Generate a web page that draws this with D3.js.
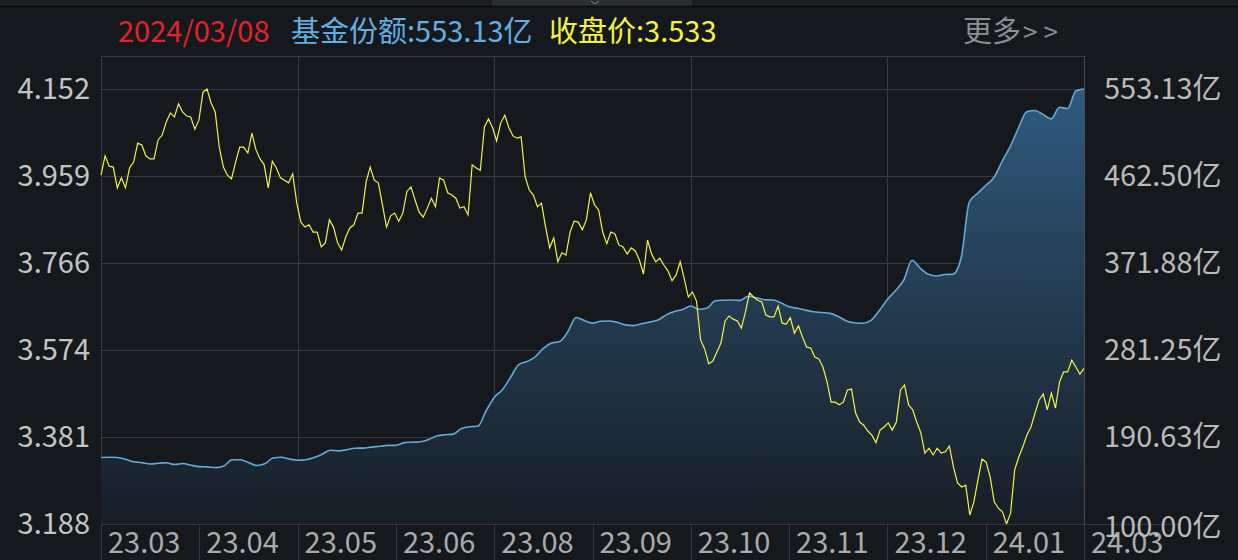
<!DOCTYPE html>
<html><head><meta charset="utf-8">
<script src="https://cdn.jsdelivr.net/npm/d3@7/dist/d3.min.js"></script>
<style>
html,body{margin:0;padding:0;background:#15181d;overflow:hidden;}
svg{display:block;}
text{font-family:"Noto Sans CJK SC","Noto Sans",sans-serif;}
</style></head>
<body>
<svg id="chart" width="1238" height="560"></svg>
<script>
// ---------- data ----------
const headerDate = "2024/03/08";
const headerShares = "基金份额:553.13亿";
const headerPrice = "收盘价:3.533";
const headerMore = "更多";
const headerMoreArrows = ">>";

const priceTicks = [4.152, 3.959, 3.766, 3.574, 3.381, 3.188];
const priceTickLabels = ["4.152", "3.959", "3.766", "3.574", "3.381", "3.188"];
const shareTicks = [553.13, 462.50, 371.88, 281.25, 190.63, 100.00];
const shareTickLabels = ["553.13亿", "462.50亿", "371.88亿", "281.25亿", "190.63亿", "100.00亿"];
const monthLabels = ["23.03", "23.04", "23.05", "23.06", "23.08", "23.09", "23.10", "23.11", "23.12", "24.01", "24.03"];

// closing price (daily)
const price = [
3.961,4.004,3.981,3.979,3.933,3.955,3.933,3.977,3.990,4.032,4.028,4.004,3.997,3.997,4.039,4.050,4.079,4.099,4.090,4.119,
4.101,4.092,4.090,4.063,4.083,4.145,4.152,4.121,4.101,4.023,3.979,3.961,3.953,3.990,4.023,4.023,4.010,4.054,4.017,3.997,
3.984,3.933,3.992,3.977,3.955,3.950,3.944,3.964,3.899,3.857,3.846,3.851,3.835,3.835,3.802,3.811,3.862,3.846,3.811,3.795,
3.824,3.844,3.851,3.877,3.877,3.946,3.979,3.950,3.944,3.895,3.846,3.871,3.877,3.859,3.877,3.925,3.935,3.906,3.879,3.868,
3.888,3.910,3.891,3.955,3.950,3.922,3.917,3.910,3.888,3.891,3.873,3.984,3.977,3.972,4.068,4.086,4.066,4.037,4.077,4.094,
4.066,4.048,4.043,4.046,3.957,3.928,3.917,3.891,3.899,3.846,3.800,3.822,3.769,3.789,3.784,3.835,3.859,3.857,3.840,3.862,
3.922,3.895,3.884,3.835,3.809,3.835,3.831,3.806,3.802,3.786,3.800,3.793,3.773,3.742,3.817,3.786,3.769,3.777,3.762,3.749,
3.727,3.740,3.769,3.731,3.691,3.702,3.682,3.596,3.576,3.543,3.549,3.569,3.589,3.638,3.649,3.642,3.638,3.622,3.658,3.700,
3.691,3.684,3.680,3.651,3.647,3.647,3.671,3.633,3.631,3.645,3.611,3.627,3.602,3.580,3.578,3.558,3.554,3.536,3.503,3.458,
3.458,3.452,3.458,3.485,3.487,3.434,3.414,3.407,3.394,3.385,3.368,3.396,3.403,3.412,3.396,3.414,3.485,3.496,3.452,3.441,
3.414,3.390,3.345,3.356,3.341,3.356,3.345,3.348,3.361,3.314,3.279,3.270,3.274,3.208,3.237,3.286,3.332,3.325,3.292,3.237,
3.223,3.215,3.188,3.212,3.308,3.336,3.359,3.385,3.403,3.434,3.463,3.476,3.441,3.478,3.445,3.503,3.525,3.525,3.551,3.536,
3.520,3.533
];

// fund shares (亿份)
const shares = [
169.27,169.58,169.27,167.50,164.79,163.96,162.50,163.23,163.75,161.98,163.02,161.25,159.79,159.48,158.75,160.42,166.98,166.98,164.06,160.94,
162.71,168.75,169.48,167.71,166.46,166.98,169.27,172.71,176.88,176.15,177.40,178.96,179.06,180.10,180.94,181.88,181.88,184.79,185.21,185.63,
188.12,191.67,193.02,193.65,199.48,201.35,201.77,217.71,231.77,239.90,252.81,266.04,269.27,273.96,283.02,288.44,290.00,300.52,315.11,311.98,
309.27,311.25,311.46,310.11,307.40,306.67,308.54,310.42,312.50,317.81,321.36,323.44,327.09,323.65,325.00,332.61,333.13,333.34,332.92,337.29,
335.73,333.65,333.34,330.42,326.25,324.69,322.81,321.04,320.31,319.38,316.15,311.56,309.59,309.06,312.09,322.09,333.86,343.23,354.17,374.79,
366.67,360.11,358.34,359.90,360.21,377.09,435.42,444.27,452.61,460.94,477.61,493.44,512.50,529.48,530.73,526.67,521.98,534.07,532.82,551.05,
553.13
];

(function () {
// ---------- layout ----------
const W = 1238, H = 560;
const pLeft = 101, pRight = 1084, pTop = 56, y0 = 89, y1 = 524;
const cellW = 98.3;

const svg = d3.select("#chart");

const xPrice = d3.scaleLinear().domain([0, price.length - 1]).range([pLeft, pRight]);
const xShares = d3.scaleLinear().domain([0, shares.length - 1]).range([pLeft, pRight]);
const yPrice = d3.scaleLinear().domain([3.188, 4.152]).range([y1, y0]);
const yShares = d3.scaleLinear().domain([100, 553.13]).range([y1, y0]);
const xBand = d3.scaleBand().domain(monthLabels).range([pLeft, pLeft + cellW * monthLabels.length]);

// top strip
svg.append("rect").attr("x", 0).attr("y", 0).attr("width", W).attr("height", 6).attr("fill", "#1b1e22");
svg.append("rect").attr("x", 492).attr("y", 0).attr("width", 200).attr("height", 6).attr("fill", "#2a2d32");
svg.append("path").attr("d", "M591,1 L595,4 L599,1").attr("stroke", "#888").attr("fill", "none").attr("stroke-width", 1);
svg.append("line").attr("x1", 0).attr("x2", W).attr("y1", 6.5).attr("y2", 6.5).attr("stroke", "#0b0c0e").attr("stroke-width", 1.5);

// header
const hdr = svg.append("g").style("font-size", "29px");
hdr.append("text").attr("x", 118).attr("y", 42).attr("fill", "#e3222b").text(headerDate);
hdr.append("text").attr("x", 291).attr("y", 42).attr("fill", "#5fb0e0").text(headerShares);
hdr.append("text").attr("x", 549).attr("y", 42).attr("fill", "#f4f43c").text(headerPrice);
const more = hdr.append("text").attr("x", 963).attr("y", 42).attr("fill", "#8d8f92");
more.append("tspan").text(headerMore);
more.append("tspan").attr("dx", 2).style("letter-spacing", "6px").style("font-size", "26px").text(headerMoreArrows);

// gradient
const defs = svg.append("defs");
const grad = defs.append("linearGradient").attr("id", "fillGrad")
  .attr("gradientUnits", "userSpaceOnUse").attr("x1", 0).attr("y1", y0).attr("x2", 0).attr("y2", y1);
grad.append("stop").attr("offset", "0%").attr("stop-color", "#2f5a7e");
grad.append("stop").attr("offset", "55%").attr("stop-color", "#22384c");
grad.append("stop").attr("offset", "100%").attr("stop-color", "#171e26");

// grid
const gridColor = "#383b41";
svg.append("g").selectAll("line").data(priceTicks.slice(0, 5)).join("line")
  .attr("x1", pLeft).attr("x2", pRight)
  .attr("y1", d => Math.round(yPrice(d)) + 0.5).attr("y2", d => Math.round(yPrice(d)) + 0.5)
  .attr("stroke", gridColor).attr("stroke-width", 1);
svg.append("line").attr("x1", pLeft).attr("x2", pRight).attr("y1", pTop + 0.5).attr("y2", pTop + 0.5).attr("stroke", gridColor);
const vIdx = [0, 2, 4, 6, 8, 10];
svg.append("g").selectAll("line").data(vIdx).join("line")
  .attr("x1", d => Math.round(xBand(monthLabels[d])) + 0.5).attr("x2", d => Math.round(xBand(monthLabels[d])) + 0.5)
  .attr("y1", pTop).attr("y2", y1)
  .attr("stroke", gridColor);

// shares area + line
const area = d3.area().x((d, i) => xShares(i)).y0(y1).y1(d => yShares(d)).curve(d3.curveMonotoneX);
svg.append("path").datum(shares).attr("d", area).attr("fill", "url(#fillGrad)");
const sLine = d3.line().x((d, i) => xShares(i)).y(d => yShares(d)).curve(d3.curveMonotoneX);
svg.append("path").datum(shares).attr("d", sLine).attr("fill", "none").attr("stroke", "#62acd9").attr("stroke-width", 1.6);

// price line
const pLine = d3.line().x((d, i) => xPrice(i)).y(d => yPrice(d));
svg.append("path").datum(price).attr("d", pLine).attr("fill", "none").attr("stroke", "#f2f24a").attr("stroke-width", 1.2);

// right border
svg.append("line").attr("x1", pRight + 0.5).attr("x2", pRight + 0.5).attr("y1", pTop).attr("y2", y1).attr("stroke", "#4a4d53");

// bottom band
svg.append("line").attr("x1", pLeft).attr("x2", pLeft + cellW * monthLabels.length).attr("y1", y1 + 0.5).attr("y2", y1 + 0.5).attr("stroke", "#33363b");
svg.append("g").selectAll("line").data(monthLabels).join("line")
  .attr("x1", d => Math.round(xBand(d)) + 0.5).attr("x2", d => Math.round(xBand(d)) + 0.5)
  .attr("y1", y1).attr("y2", H).attr("stroke", "#33363b");
svg.append("g").style("font-size", "29px").selectAll("text").data(monthLabels).join("text")
  .attr("x", d => xBand(d) + 7).attr("y", 553).attr("fill", "#a9abae").text(d => d);

// left axis labels
svg.append("g").style("font-size", "29px").selectAll("text").data(priceTicks).join("text")
  .attr("x", 90).attr("y", d => yPrice(d) + 10).attr("text-anchor", "end").attr("fill", "#c3c4c6")
  .text((d, i) => priceTickLabels[i]);

// right axis labels
svg.append("g").style("font-size", "29px").selectAll("text").data(shareTicks).join("text")
  .attr("x", 1104).attr("y", (d, i) => yShares(d) + 10 + (i === shareTicks.length - 1 ? 3 : 0))
  .attr("fill", "#b9babc")
  .text((d, i) => shareTickLabels[i]);
})();
</script>
</body></html>
